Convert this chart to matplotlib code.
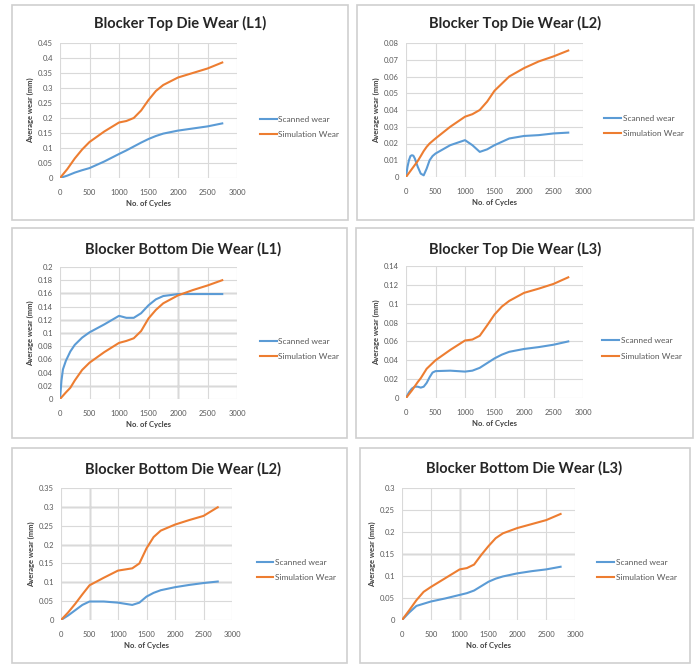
import matplotlib
matplotlib.use("Agg")
import matplotlib.pyplot as plt
from matplotlib.patches import Rectangle

plt.rcParams['font.family'] = ['Lato', 'DejaVu Sans']

W, H = 697, 664

# --- data (cycles vs average wear in mm) ---
cyc_top_l1 = [0, 125, 250, 375, 500, 750, 1000, 1125, 1250, 1375, 1500, 1625, 1750, 2000, 2250, 2500, 2750]
scan_top_l1 = [0, 0.008, 0.018, 0.026, 0.033, 0.055, 0.08, 0.092, 0.105, 0.118, 0.13, 0.14, 0.148, 0.158, 0.165, 0.172, 0.182]
sim_top_l1 = [0, 0.03, 0.065, 0.095, 0.12, 0.155, 0.185, 0.19, 0.2, 0.225, 0.26, 0.29, 0.31, 0.335, 0.35, 0.365, 0.385]

cyc_top_l2 = [0, 25, 50, 75, 100, 125, 150, 200, 250, 300, 350, 400, 450, 500, 750, 1000, 1125, 1250,
              1375, 1500, 1750, 2000, 2250, 2500, 2750]
scan_top_l2 = [0, 0.006, 0.010, 0.0125, 0.013, 0.0127, 0.011, 0.006, 0.002, 0.001, 0.005, 0.010, 0.0125, 0.014,
               0.019, 0.022, 0.019, 0.015, 0.0165, 0.019, 0.023, 0.0245, 0.025, 0.026, 0.0265]
sim_top_l2 = [0, 0.0012, 0.0024, 0.0036, 0.0048, 0.006, 0.0072, 0.0096, 0.0125, 0.0155, 0.018, 0.02, 0.0215, 0.023,
              0.030, 0.036, 0.0375, 0.040, 0.045, 0.0515, 0.060, 0.065, 0.069, 0.072, 0.0755]

cyc_bot_l1 = [0, 25, 50, 100, 175, 250, 375, 500, 750, 1000, 1125, 1250, 1375, 1500, 1625, 1750, 2000, 2250, 2500, 2750]
scan_bot_l1 = [0, 0.028, 0.045, 0.058, 0.072, 0.082, 0.093, 0.101, 0.113, 0.126, 0.123, 0.123, 0.13, 0.142,
               0.151, 0.156, 0.159, 0.159, 0.159, 0.159]
sim_bot_l1 = [0, 0.0025, 0.005, 0.01, 0.017, 0.028, 0.044, 0.055, 0.071, 0.085, 0.088, 0.092, 0.103, 0.122,
              0.135, 0.145, 0.157, 0.165, 0.172, 0.18]

cyc_top_l3 = [0, 50, 100, 150, 200, 250, 300, 350, 400, 450, 500, 750, 1000, 1125, 1250, 1375, 1500, 1625,
              1750, 2000, 2250, 2500, 2750]
scan_top_l3 = [0, 0.006, 0.010, 0.012, 0.012, 0.011, 0.012, 0.016, 0.022, 0.027, 0.0285, 0.029, 0.028, 0.029,
               0.032, 0.037, 0.042, 0.046, 0.049, 0.052, 0.054, 0.0565, 0.06]
sim_top_l3 = [0, 0.004, 0.008, 0.0125, 0.017, 0.021, 0.026, 0.031, 0.034, 0.037, 0.040, 0.051, 0.061, 0.062,
              0.066, 0.077, 0.0885, 0.097, 0.103, 0.1115, 0.116, 0.121, 0.128]

cyc_bot_l2 = [0, 125, 250, 375, 500, 750, 1000, 1125, 1250, 1375, 1500, 1625, 1750, 2000, 2250, 2500, 2750]
scan_bot_l2 = [0, 0.012, 0.026, 0.04, 0.049, 0.049, 0.046, 0.043, 0.040, 0.046, 0.062, 0.072, 0.079, 0.087,
               0.093, 0.098, 0.102]
sim_bot_l2 = [0, 0.02, 0.043, 0.068, 0.092, 0.112, 0.131, 0.134, 0.137, 0.15, 0.19, 0.22, 0.237, 0.253,
              0.265, 0.276, 0.299]

cyc_bot_l3 = [0, 125, 250, 375, 500, 750, 1000, 1125, 1250, 1375, 1500, 1625, 1750, 2000, 2250, 2500, 2750]
scan_bot_l3 = [0, 0.017, 0.032, 0.037, 0.042, 0.049, 0.057, 0.061, 0.067, 0.077, 0.087, 0.094, 0.099, 0.106,
               0.111, 0.115, 0.121]
sim_bot_l3 = [0, 0.022, 0.045, 0.064, 0.075, 0.095, 0.115, 0.118, 0.126, 0.148, 0.168, 0.186, 0.197, 0.209,
              0.218, 0.227, 0.241]

x_ticks = [0, 500, 1000, 1500, 2000, 2500, 3000]
series_labels = ["Scanned wear", "Simulation Wear"]

panels = [
    # title, cycles, scanned, simulation, y max, y step
    ("Blocker Top Die Wear (L1)", cyc_top_l1, scan_top_l1, sim_top_l1, 0.45, 0.05),
    ("Blocker Top Die Wear (L2)", cyc_top_l2, scan_top_l2, sim_top_l2, 0.08, 0.01),
    ("Blocker Bottom Die Wear (L1)", cyc_bot_l1, scan_bot_l1, sim_bot_l1, 0.2, 0.02),
    ("Blocker Top Die Wear (L3)", cyc_top_l3, scan_top_l3, sim_top_l3, 0.14, 0.02),
    ("Blocker Bottom Die Wear (L2)", cyc_bot_l2, scan_bot_l2, sim_bot_l2, 0.35, 0.05),
    ("Blocker Bottom Die Wear (L3)", cyc_bot_l3, scan_bot_l3, sim_bot_l3, 0.3, 0.05),
]

# layout in pixels: (box l, t, r, b), (plot l, t, r, b), title x, title y, legend anchor (axes frac)
layout = [
    ((12, 5, 348, 220), (60, 43, 237, 178), 180, 23, (1.13, 0.38)),
    ((357, 5, 694, 220), (406, 43, 583, 177), 515, 23, (1.12, 0.38)),
    ((12, 228, 347, 438), (60, 267, 237, 399), 183, 249, (1.13, 0.38)),
    ((356, 228, 693, 438), (406, 266, 583, 398), 515, 249, (1.11, 0.375)),
    ((12, 448, 347, 663), (61, 488, 232, 620), 183, 469, (1.145, 0.38)),
    ((360, 448, 690, 663), (402, 488, 575, 620), 524, 468, (1.13, 0.38)),
]

# gridlines that look darker in the scanned reference (x positions, y positions)
dark_grid = [
    ([], []),
    ([], []),
    ([2000], [0.02, 0.06, 0.1, 0.12, 0.16]),
    ([], []),
    ([500], [0.1, 0.2, 0.3]),
    ([1000], [0.15]),
]

BLUE = '#5b9bd5'
ORANGE = '#ed7d31'
TXT = '#595959'


def fmt(v):
    s = f"{v:.2f}".rstrip('0').rstrip('.')
    return s


fig = plt.figure(figsize=(W / 100, H / 100), dpi=100)

for (title, cyc, scan, sim, ymax, ystep), (box, plot, tx, ty, leg), (dx, dy) in zip(panels, layout, dark_grid):
    bl, bt, br, bb = box
    fig.patches.append(Rectangle((bl / W, 1 - bb / H), (br - bl) / W, (bb - bt) / H,
                                 transform=fig.transFigure, fill=False, edgecolor='#cfcfcf', lw=1.2))
    pl, pt, pr, pb = plot
    ax = fig.add_axes([pl / W, 1 - pb / H, (pr - pl) / W, (pb - pt) / H])
    for v in dx:
        ax.axvline(v, color='#a8a8a8', lw=1.0, zorder=0.5)
    for v in dy:
        ax.axhline(v, color='#a8a8a8', lw=1.0, zorder=0.5)
    ax.plot(cyc, scan, color=BLUE, lw=1.5, label=series_labels[0])
    ax.plot(cyc, sim, color=ORANGE, lw=1.5, label=series_labels[1])

    n = int(round(ymax / ystep))
    yt = [i * ystep for i in range(n + 1)]
    ax.set_xlim(0, 3000)
    ax.set_ylim(0, ymax)
    ax.set_xticks(x_ticks)
    ax.set_xticklabels([str(x) for x in x_ticks])
    ax.set_yticks(yt)
    ax.set_yticklabels([fmt(v) for v in yt])
    ax.grid(True, color='#d9d9d9', lw=0.8)
    ax.set_axisbelow(True)
    for s in ax.spines.values():
        s.set_visible(False)
    ax.tick_params(length=0, labelsize=5.5, colors=TXT)
    ax.tick_params(axis='x', pad=8)
    ax.tick_params(axis='y', pad=5)
    ax.set_xlabel("No. of Cycles", fontsize=5.5, fontweight='bold', color='#404040', labelpad=3)
    ax.set_ylabel("Average wear (mm)", fontsize=5.5, fontweight='bold', color='#404040', labelpad=3)
    ax.legend(loc='center left', bbox_to_anchor=leg, frameon=False, fontsize=6, handlelength=2.0,
              handletextpad=0.2, labelspacing=1.0, borderpad=0, borderaxespad=0, labelcolor=TXT)
    fig.text(tx / W, 1 - ty / H, title, ha='center', va='center', fontsize=10.5,
             fontweight='bold', color='#262626')

fig.savefig("out.png", dpi=100)
